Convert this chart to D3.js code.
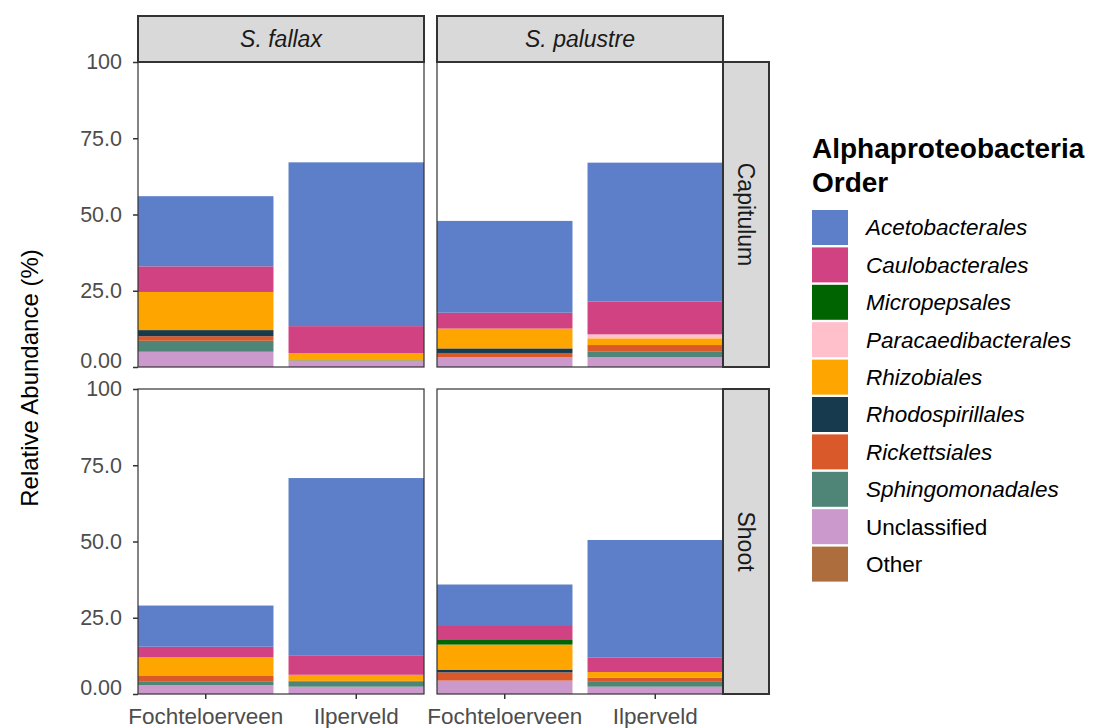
<!DOCTYPE html>
<html>
<head>
<meta charset="utf-8">
<script src="https://cdn.jsdelivr.net/npm/d3@7"></script>
<style>
  body { margin: 0; background: #fff; }
  svg { font-family: "Liberation Sans", Arial, sans-serif; }
</style>
</head>
<body>
<div id="chart"></div>
<script>
// Categories
const sites = ['Fochteloerveen', 'Ilperveld'];
const hosts = ['S. fallax', 'S. palustre'];
const tissues = ['Capitulum', 'Shoot'];
const orders = ['Acetobacterales', 'Caulobacterales', 'Micropepsales', 'Paracaedibacterales',
    'Rhizobiales', 'Rhodospirillales', 'Rickettsiales', 'Sphingomonadales', 'Unclassified', 'Other'];
const orderColors = ['#5d7ec8', '#d04281', '#006400', '#ffc0cb', '#ffa500',
    '#173a4e', '#d9592a', '#4e8577', '#cc99cc', '#ad6d3d'];
const italicOrder = [true, true, true, true, true, true, true, true, false, false];

// Bar order: Capitulum fallax F/I, Capitulum palustre F/I, Shoot fallax F/I, Shoot palustre F/I
const acetobacterales     = [23.0, 53.7, 30.1, 45.5, 13.5, 58.1, 13.3, 38.6];
const caulobacterales     = [8.4, 8.9, 5.2, 10.8, 3.5, 6.4, 4.9, 4.7];
const micropepsales       = [0, 0, 0, 0, 0, 0, 1.5, 0];
const paracaedibacterales = [0, 0, 0, 1.3, 0, 0, 0, 0];
const rhizobiales         = [12.5, 2.3, 6.5, 2.2, 6.1, 2.0, 8.2, 1.8];
const rhodospirillales    = [2.0, 0, 1.5, 0, 0, 0, 0.9, 0];
const rickettsiales       = [1.5, 0, 1.4, 2.2, 1.9, 0.3, 2.7, 1.2];
const sphingomonadales    = [3.6, 0.2, 0, 1.8, 1.1, 1.6, 0, 1.8];
const unclassified        = [5.0, 2.0, 3.2, 3.2, 2.9, 2.4, 4.4, 2.4];
const other               = [0, 0, 0, 0, 0, 0, 0, 0];

const yTicks = [0, 25, 50, 75, 100];
const yTickLabels = ['0.00', '25.0', '50.0', '75.0', '100'];

const seriesValues = [acetobacterales, caulobacterales, micropepsales, paracaedibacterales,
    rhizobiales, rhodospirillales, rickettsiales, sphingomonadales, unclassified, other];

// Build rows for the stack
const rows = [];
tissues.forEach((tissue, ti) => {
    hosts.forEach((host, hi) => {
        sites.forEach((site, si) => {
            const idx = ti * 4 + hi * 2 + si;
            const row = { tissue, host, site };
            orders.forEach((o, oi) => { row[o] = seriesValues[oi][idx]; });
            rows.push(row);
        });
    });
});

const width = 1093, height = 728;
const svg = d3.select('#chart').append('svg')
    .attr('width', width)
    .attr('height', height);

// Layout
const panelX = [138, 437];
const panelW = 286;
const panelY = [62, 389];
const panelH = 305;
const stripTop = 16;
const stripRightX = 723;
const stripRightW = 46;

const color = d3.scaleOrdinal().domain(orders).range(orderColors);

// ggplot stacks the first level on top, so stack in reverse
const stack = d3.stack().keys(orders.slice().reverse());

const x = d3.scaleBand().domain(sites).range([0, panelW]).paddingInner(0.1).paddingOuter(0);

tissues.forEach((tissue, ti) => {
    const y = d3.scaleLinear().domain([0, 100]).range([panelH, 0]);
    hosts.forEach((host, hi) => {
        const g = svg.append('g')
            .attr('transform', `translate(${panelX[hi]},${panelY[ti]})`);
        const data = rows.filter(r => r.tissue === tissue && r.host === host);
        const layers = stack(data);

        g.selectAll('g.layer')
            .data(layers)
            .enter()
            .append('g')
            .attr('class', 'layer')
            .attr('fill', d => color(d.key))
            .selectAll('rect')
            .data(d => d)
            .enter()
            .append('rect')
            .attr('x', d => x(d.data.site))
            .attr('width', x.bandwidth())
            .attr('y', d => y(d[1]))
            .attr('height', d => y(d[0]) - y(d[1]));

        // panel border
        g.append('rect')
            .attr('width', panelW)
            .attr('height', panelH)
            .attr('fill', 'none')
            .attr('stroke', '#333')
            .attr('stroke-width', 1.2);

        // y axis on left column
        if (hi === 0) {
            const ax = g.append('g')
                .call(d3.axisLeft(y)
                    .tickValues(yTicks)
                    .tickFormat((d, i) => yTickLabels[i])
                    .tickSize(5)
                    .tickPadding(11));
            ax.select('.domain').remove();
            ax.selectAll('line').attr('stroke', '#333').attr('stroke-width', 1.5);
            ax.selectAll('text')
                .attr('fill', '#4d4d4d')
                .style('font-size', '21.5px');
            // the zero label sits a little above its tick, as in the original
            ax.selectAll('.tick').filter(d => d === 0).select('text').attr('y', -6);
        }

        // x axis on bottom row
        if (ti === tissues.length - 1) {
            const ax = g.append('g')
                .attr('transform', `translate(0,${panelH})`)
                .call(d3.axisBottom(x).tickSize(5).tickPadding(9));
            ax.select('.domain').remove();
            ax.selectAll('line').attr('stroke', '#333').attr('stroke-width', 1.5);
            ax.selectAll('text')
                .attr('fill', '#4d4d4d')
                .style('font-size', '22.5px');
        }

        // top strips
        if (ti === 0) {
            svg.append('rect')
                .attr('x', panelX[hi])
                .attr('y', stripTop)
                .attr('width', panelW)
                .attr('height', panelY[0] - stripTop)
                .attr('fill', '#d9d9d9')
                .attr('stroke', '#333')
                .attr('stroke-width', 2);
            svg.append('text')
                .attr('x', panelX[hi] + panelW / 2)
                .attr('y', stripTop + (panelY[0] - stripTop) / 2)
                .attr('dy', '0.35em')
                .attr('text-anchor', 'middle')
                .attr('font-style', 'italic')
                .attr('fill', '#1a1a1a')
                .style('font-size', '23px')
                .text(host);
        }
    });

    // right strips
    svg.append('rect')
        .attr('x', stripRightX)
        .attr('y', panelY[ti])
        .attr('width', stripRightW)
        .attr('height', panelH)
        .attr('fill', '#d9d9d9')
        .attr('stroke', '#333')
        .attr('stroke-width', 2);
    const cx = stripRightX + stripRightW / 2;
    const cy = panelY[ti] + panelH / 2;
    svg.append('text')
        .attr('transform', `translate(${cx},${cy}) rotate(90)`)
        .attr('dy', '0.35em')
        .attr('text-anchor', 'middle')
        .attr('fill', '#1a1a1a')
        .style('font-size', '23px')
        .text(tissue);
});

// y axis title
svg.append('text')
    .attr('transform', `translate(30,${(panelY[0] + panelY[1] + panelH) / 2}) rotate(-90)`)
    .attr('text-anchor', 'middle')
    .attr('dy', '0.35em')
    .attr('fill', '#000')
    .style('font-size', '24px')
    .text('Relative Abundance (%)');

// Legend
const legend = svg.append('g').attr('transform', 'translate(812,0)');
legend.append('text')
    .attr('x', 0).attr('y', 158)
    .attr('font-weight', 'bold')
    .style('font-size', '28px')
    .text('Alphaproteobacteria');
legend.append('text')
    .attr('x', 0).attr('y', 192)
    .attr('font-weight', 'bold')
    .style('font-size', '28px')
    .text('Order');

const keyStep = 37.4, keyTop = 210, keySize = 35;
const items = legend.selectAll('g.item')
    .data(orders)
    .enter()
    .append('g')
    .attr('class', 'item')
    .attr('transform', (d, i) => `translate(0,${keyTop + i * keyStep})`);
items.append('rect')
    .attr('width', 36)
    .attr('height', keySize)
    .attr('fill', d => color(d));
items.append('text')
    .attr('x', 54)
    .attr('y', keySize / 2)
    .attr('dy', '0.35em')
    .attr('font-style', (d, i) => italicOrder[i] ? 'italic' : 'normal')
    .style('font-size', '22.5px')
    .text(d => d);
</script>
</body>
</html>
